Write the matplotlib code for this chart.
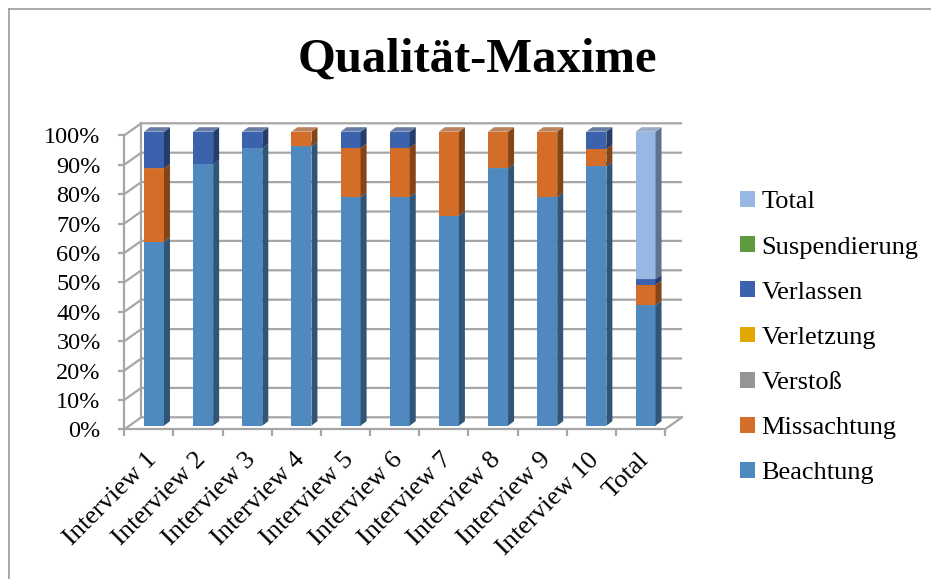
import matplotlib
matplotlib.use("Agg")
import matplotlib.pyplot as plt
import numpy as np
from matplotlib.patches import Polygon, Patch
from matplotlib.lines import Line2D
import matplotlib.colors as mcolors
import matplotlib.transforms as mtransforms

plt.rcParams['font.family'] = ['Liberation Serif', 'DejaVu Serif']

categories = ["Interview 1", "Interview 2", "Interview 3", "Interview 4", "Interview 5",
              "Interview 6", "Interview 7", "Interview 8", "Interview 9", "Interview 10", "Total"]

beachtung     = [62.5, 88.9, 94.4, 95.0, 77.8, 77.8, 71.4, 87.5, 77.8, 88.2, 41.0]
missachtung   = [25.0, 0.0, 0.0, 5.0, 16.7, 16.7, 28.6, 12.5, 22.2, 5.9, 6.9]
verstoss      = [0.0] * 11
verletzung    = [0.0] * 11
verlassen     = [12.5, 11.1, 5.6, 0.0, 5.5, 5.5, 0.0, 0.0, 0.0, 5.9, 1.9]
suspendierung = [0.0] * 11
total         = [0.0] * 10 + [50.2]

series_names = ["Beachtung", "Missachtung", "Verstoß", "Verletzung", "Verlassen", "Suspendierung", "Total"]
series_values = [beachtung, missachtung, verstoss, verletzung, verlassen, suspendierung, total]
series_colors = ["#4F89BF", "#D46D27", "#959595", "#E3A800", "#3A62AD", "#5E9A3E", "#96B8E2"]

y_ticks = list(range(0, 101, 10))
y_tick_labels = [f"{v}%" for v in y_ticks]

W, H = 931, 579
fig = plt.figure(figsize=(W / 100, H / 100), dpi=100)

# front plane of the plot box in pixels
x_left, x_right = 124.3, 665.0
y_bot, y_top = 429.3, 135.3
ax = fig.add_axes([x_left / W, (H - y_bot) / H, (x_right - x_left) / W, (y_bot - y_top) / H])
ax.set_xlim(-0.5, 10.5)
ax.set_ylim(0, 100)

px_x = 11 / (x_right - x_left)   # data units per pixel (x)
px_y = 100 / (y_bot - y_top)     # data units per pixel (y)

# depth of the box (back wall offset), in pixels
depth_dx, depth_dy = 17.0, 12.0
DX, DY = depth_dx * px_x, depth_dy * px_y

grid_col = "#A6A6A6"
glw = 1.6

# back wall gridlines with the diagonal on the left side wall
for v in y_ticks:
    ax.add_line(Line2D([-0.5, -0.5 + DX, 10.5 + DX], [v, v + DY, v + DY],
                       color=grid_col, lw=glw, clip_on=False, zorder=1,
                       solid_capstyle='butt'))
# back wall left vertical edge
ax.add_line(Line2D([-0.5 + DX, -0.5 + DX], [DY, 100 + DY], color=grid_col, lw=glw,
                   clip_on=False, zorder=1))
# floor right diagonal
ax.add_line(Line2D([10.5, 10.5 + DX], [0, DY], color=grid_col, lw=glw, clip_on=False, zorder=1))

# bars with pseudo-3D faces
bar_w = 20 * px_x
bar_off_x, bar_off_y = 5.1 * px_x, 3.6 * px_y   # position of bar front inside the box
side_dx, side_dy = 6.0 * px_x, 4.5 * px_y        # bar depth


def shade(c, f):
    r, g, b = mcolors.to_rgb(c)
    return (r * f, g * f, b * f)


def top_col(c):
    r, g, b = mcolors.to_rgb(c)
    grey = 0.62
    return (r * 0.55 + grey * 0.45, g * 0.55 + grey * 0.45, b * 0.55 + grey * 0.45)


xs = np.arange(len(categories))
bottoms = np.zeros(len(categories))
for name, vals, col in zip(series_names, series_values, series_colors):
    vals = np.asarray(vals, dtype=float)
    for i, (x, v) in enumerate(zip(xs, vals)):
        if v <= 0:
            continue
        y0 = bottoms[i] + bar_off_y
        y1 = bottoms[i] + v + bar_off_y
        x0 = x - bar_w / 2 + bar_off_x
        x1 = x + bar_w / 2 + bar_off_x
        ax.add_patch(Polygon([(x0, y0), (x1, y0), (x1, y1), (x0, y1)], closed=True,
                             facecolor=col, edgecolor='none', clip_on=False, zorder=3))
        ax.add_patch(Polygon([(x1, y0), (x1 + side_dx, y0 + side_dy),
                              (x1 + side_dx, y1 + side_dy), (x1, y1)], closed=True,
                             facecolor=shade(col, 0.62), edgecolor='none', clip_on=False, zorder=3))
        ax.add_patch(Polygon([(x0, y1), (x1, y1), (x1 + side_dx, y1 + side_dy),
                              (x0 + side_dx, y1 + side_dy)], closed=True,
                             facecolor=top_col(col), edgecolor='none', clip_on=False, zorder=3))
    bottoms += vals

# axes styling
for s in ["top", "right"]:
    ax.spines[s].set_visible(False)
for s in ["left", "bottom"]:
    ax.spines[s].set_color(grid_col)
    ax.spines[s].set_linewidth(glw)
    ax.spines[s].set_zorder(2)
ax.set_facecolor('none')

ax.set_yticks(y_ticks)
ax.set_yticklabels(y_tick_labels, fontsize=17.5)
ax.tick_params(axis='y', length=4, width=glw, color=grid_col, pad=13)

ax.set_xticks(xs)
ax.set_xticklabels(categories, rotation=45, ha='right', va='top',
                   rotation_mode='anchor', fontsize=19)
ax.tick_params(axis='x', which='major', length=0, pad=14)
shift = mtransforms.ScaledTranslation(-3 / 100, 0, fig.dpi_scale_trans)
for lbl in ax.get_xticklabels():
    lbl.set_transform(lbl.get_transform() + shift)
ax.set_xticks(np.arange(-0.5, 11.0, 1.0), minor=True)
ax.tick_params(axis='x', which='minor', length=5, width=glw, color=grid_col)

fig.text(477.5 / W, 1 - 72 / H, "Qualität-Maxime", ha='center', va='baseline',
         fontsize=35, fontweight='bold')

# legend
handles = [Patch(facecolor=c, edgecolor='none', label=n)
           for n, c in zip(series_names, series_colors)][::-1]
fig.legend(handles=handles, loc='upper left', bbox_to_anchor=(727 / W, 1 - 178 / H),
           frameon=False, fontsize=19, handlelength=0.55, handleheight=0.55,
           handletextpad=0.25, labelspacing=0.865, borderpad=0)

# chart border
fig.add_artist(Line2D([8.5 / W, 1.0], [1 - 8.5 / H, 1 - 8.5 / H], transform=fig.transFigure,
                      color="#9A9A9A", lw=1.2))
fig.add_artist(Line2D([8.5 / W, 8.5 / W], [0.0, 1 - 8.5 / H], transform=fig.transFigure,
                      color="#9A9A9A", lw=1.2))

fig.savefig("out.png", dpi=100)
